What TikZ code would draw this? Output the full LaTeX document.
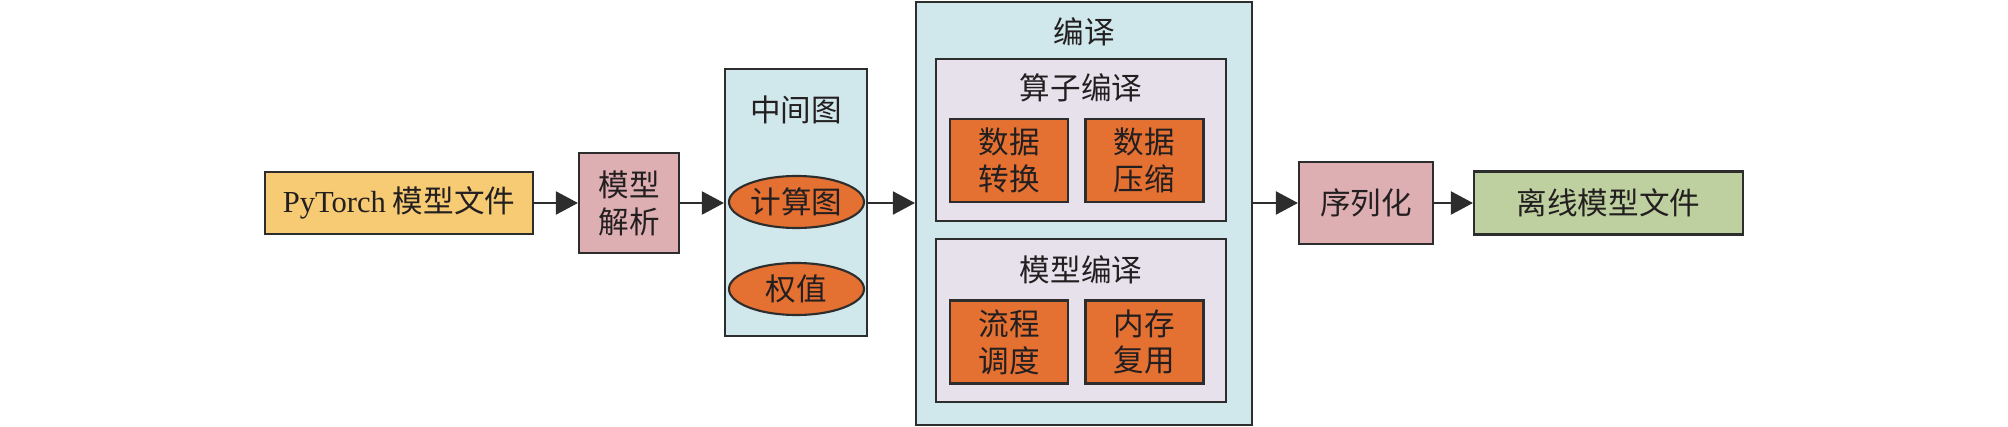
\documentclass[tikz,border=0pt]{standalone}
\usepackage{fontspec}
\setmainfont{Liberation Serif}
\newfontfamily\cjk{Noto Sans CJK SC}
\usetikzlibrary{arrows.meta,shapes.geometric}
\definecolor{fileyellow}{RGB}{247,203,115}
\definecolor{steppink}{RGB}{222,175,178}
\definecolor{groupblue}{RGB}{208,231,235}
\definecolor{sublilac}{RGB}{231,225,236}
\definecolor{leaforange}{RGB}{228,112,50}
\definecolor{outgreen}{RGB}{190,208,160}
\definecolor{linegray}{RGB}{45,45,45}
\definecolor{textgray}{RGB}{35,31,32}

\begin{document}
\begin{tikzpicture}

\tikzset{box/.style = {shape=rectangle,draw=linegray,line width=0.6pt,text=textgray,inner sep=0pt,align=center,font=\cjk\fontsize{8.7}{10.5}\selectfont}}
\tikzset{label/.style = {text=textgray,inner sep=0pt,font=\cjk\fontsize{8.7}{10.5}\selectfont}}
\tikzset{leaf/.style = {box,fill=leaforange,minimum width=1.18cm,minimum height=0.83cm}}
\tikzset{blob/.style = {shape=ellipse,draw=linegray,line width=0.6pt,fill=leaforange,text=textgray,inner sep=0pt,minimum width=1.35cm,minimum height=0.52cm,font=\cjk\fontsize{8.7}{10.5}\selectfont}}
\tikzset{edge/.style = {-{Triangle[length=2.2mm,width=2.3mm]},line width=0.6pt,draw=linegray,color=linegray}}

\useasboundingbox (0,0) rectangle (20.08,4.27);
% input side
\node[box,fill=fileyellow,minimum width=2.68cm,minimum height=0.62cm] (pt) at (3.99,2.24) {{\rmfamily PyTorch} 模型文件};
\node[box,fill=steppink,minimum width=1.00cm,minimum height=1.00cm] (parse) at (6.29,2.24) {模型\\解析};
% intermediate graph
\node[box,fill=groupblue,minimum width=1.42cm,minimum height=2.67cm] (mid) at (7.96,2.245) {};
\node[label] (midt) at (7.96,3.17) {中间图};
\node[blob] (cg) at (7.965,2.25) {计算图};
\node[blob] (wt) at (7.965,1.38) {权值};
% compilation
\node[box,fill=groupblue,minimum width=3.36cm,minimum height=4.23cm] (comp) at (10.84,2.135) {};
\node[label] (compt) at (10.84,3.95) {编译};
\node[box,fill=sublilac,minimum width=2.90cm,minimum height=1.62cm] (op) at (10.81,2.87) {};
\node[label] (opt) at (10.81,3.39) {算子编译};
\node[leaf] (conv) at (10.09,2.665) {数据\\转换};
\node[leaf] (zip) at (11.445,2.665) {数据\\压缩};
\node[box,fill=sublilac,minimum width=2.90cm,minimum height=1.63cm] (mc) at (10.81,1.065) {};
\node[label] (mct) at (10.81,1.57) {模型编译};
\node[leaf] (sched) at (10.09,0.85) {流程\\调度};
\node[leaf] (mem) at (11.445,0.85) {内存\\复用};
% output side
\node[box,fill=steppink,minimum width=1.34cm,minimum height=0.82cm] (ser) at (13.66,2.24) {序列化};
\node[box,fill=outgreen,minimum width=2.69cm,minimum height=0.63cm] (off) at (16.085,2.24) {离线模型文件};
%edges
\draw[edge] (pt) to (parse);
\draw[edge] (parse) to (parse -| mid.west);
\draw[edge] (mid.east |- ser) to (ser -| comp.west);
\draw[edge] (ser -| comp.east) to (ser);
\draw[edge] (ser) to (off);
\end{tikzpicture}
\end{document}
